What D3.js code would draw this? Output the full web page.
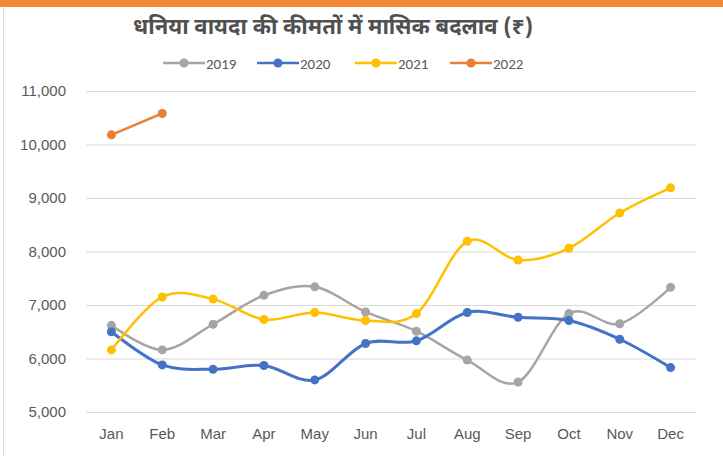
<!DOCTYPE html>
<html>
<head>
<meta charset="utf-8">
<script src="https://cdn.jsdelivr.net/npm/d3@7"></script>
<style>
  body { margin: 0; background: #fff; }
  svg { display: block; font-family: Calibri, Carlito, "Liberation Sans", Arial, sans-serif; }
</style>
</head>
<body>
<svg id="chart"></svg>
<script>
// 数据
const months = ['Jan', 'Feb', 'Mar', 'Apr', 'May', 'Jun', 'Jul', 'Aug', 'Sep', 'Oct', 'Nov', 'Dec'];
const years = ['2019', '2020', '2021', '2022'];
const values2019 = [6620, 6160, 6640, 7180, 7340, 6870, 6510, 5970, 5560, 6840, 6650, 7330];
const values2020 = [6500, 5880, 5800, 5870, 5600, 6280, 6330, 6860, 6770, 6710, 6360, 5830];
const values2021 = [6160, 7150, 7110, 6730, 6860, 6710, 6840, 8190, 7840, 8060, 8720, 9190];
const values2022 = [10180, 10580];
const yTicks = [5000, 6000, 7000, 8000, 9000, 10000, 11000];
const colors = ['#A5A5A5', '#4472C4', '#FFC000', '#ED7D31'];

const W = 723, H = 456;
const margin = { top: 91, right: 27, bottom: 44, left: 86 };
const width = W - margin.left - margin.right;
const height = H - margin.top - margin.bottom;

const root = d3.select('#chart').attr('width', W).attr('height', H);

// 边框
root.append('rect').attr('x', 0).attr('y', 0).attr('width', W).attr('height', 7).attr('fill', '#F58634');
root.append('line').attr('x1', 3.5).attr('x2', 3.5).attr('y1', 7).attr('y2', H)
  .attr('stroke', '#D9D9D9').attr('stroke-width', 1);

const svg = root.append('g').attr('transform', `translate(${margin.left},${margin.top})`);

// 比例尺
const xScale = d3.scaleBand().domain(months).range([0, width]);
const yScale = d3.scaleLinear().domain([5000, 11000]).range([height, 0]);

// 网格线
svg.append('g')
  .attr('class', 'grid')
  .call(d3.axisLeft(yScale).tickValues(yTicks).tickSize(-width).tickFormat(''))
  .call((g) => g.select('.domain').remove())
  .call((g) => g.selectAll('line').attr('stroke', '#D9D9D9').attr('stroke-width', 1));

// Y轴
svg.append('g')
  .call(d3.axisLeft(yScale).tickValues(yTicks).tickSize(0).tickPadding(20).tickFormat(d3.format(',')))
  .call((g) => g.select('.domain').remove())
  .call((g) => g.selectAll('text').attr('fill', '#595959').style('font-size', '15px'));

// X轴
svg.append('g')
  .attr('transform', `translate(0,${height})`)
  .call(d3.axisBottom(xScale).tickSize(0).tickPadding(16))
  .call((g) => g.select('.domain').remove())
  .call((g) => g.selectAll('text').attr('fill', '#595959').style('font-size', '15px'));

// 折线
const series = [values2019, values2020, values2021, values2022];
const line = d3.line()
  .x((d, i) => xScale(months[i]) + xScale.bandwidth() / 2)
  .y((d) => yScale(d))
  .curve(d3.curveCardinal.tension(0));

series.forEach((vals, k) => {
  svg.append('path')
    .datum(vals)
    .attr('d', line)
    .attr('fill', 'none')
    .attr('stroke', colors[k])
    .attr('stroke-width', k === 1 ? 3 : 2.5)
    .attr('stroke-linecap', 'round');
  svg.selectAll(`.dot${k}`)
    .data(vals)
    .enter()
    .append('circle')
    .attr('cx', (d, i) => xScale(months[i]) + xScale.bandwidth() / 2)
    .attr('cy', (d) => yScale(d))
    .attr('r', 4.5)
    .attr('fill', colors[k]);
});

// 标题
root.append('text')
  .attr('x', 333)
  .attr('y', 34)
  .attr('text-anchor', 'middle')
  .attr('fill', '#505050')
  .style('font-size', '22px')
  .style('font-weight', 'bold')
  .style('font-family', '"Noto Sans Devanagari", "Lohit Devanagari", "Noto Sans", sans-serif')
  .text('धनिया वायदा की कीमतों में मासिक बदलाव (₹)');

// 图例
const legendX = [163, 257, 355, 450];
const legend = root.append('g').attr('transform', 'translate(0,63)');
years.forEach((y, k) => {
  const g = legend.append('g').attr('transform', `translate(${legendX[k]},0)`);
  g.append('line').attr('x1', 0).attr('x2', 42).attr('y1', 0).attr('y2', 0)
    .attr('stroke', colors[k]).attr('stroke-width', 2.5);
  g.append('circle').attr('cx', 21).attr('cy', 0).attr('r', 4.5).attr('fill', colors[k]);
  g.append('text').attr('x', 43).attr('y', 5.5).attr('fill', '#595959')
    .style('font-size', '15px').text(y);
});
</script>
</body>
</html>
